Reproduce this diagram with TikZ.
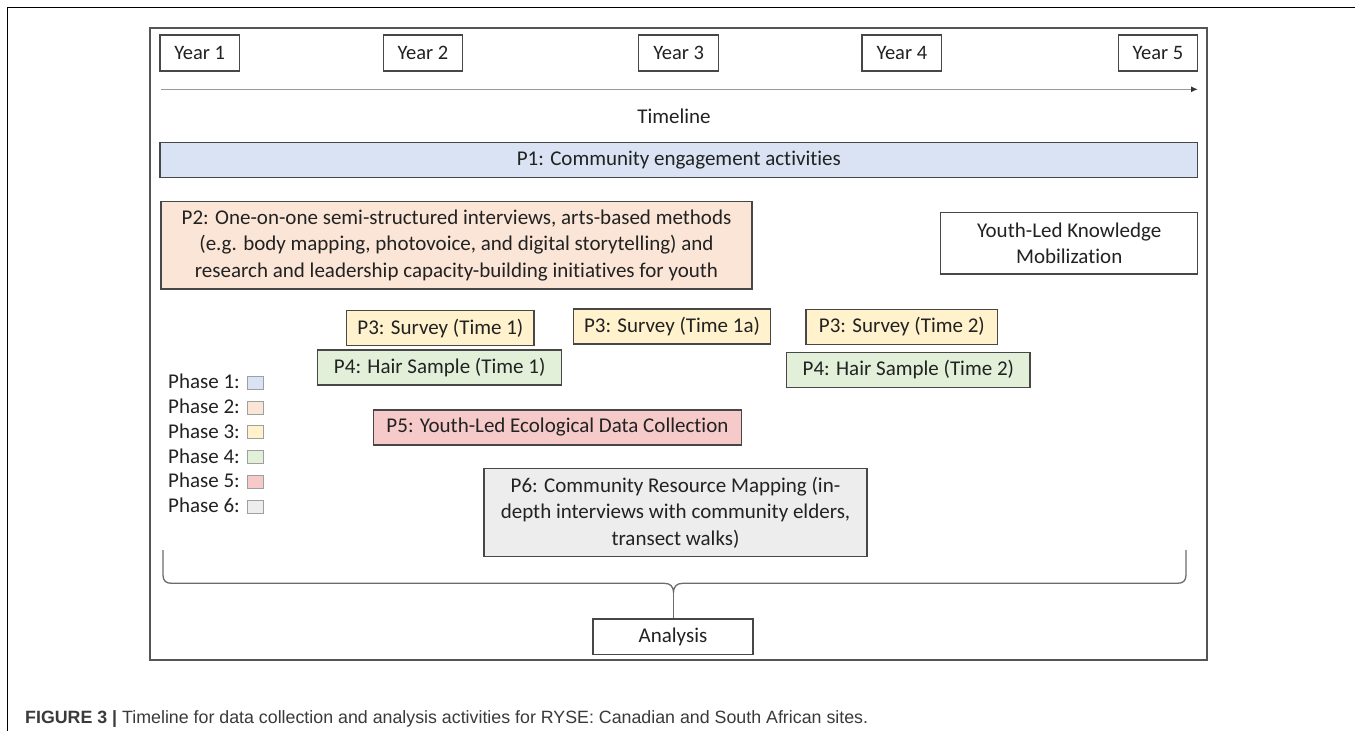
\documentclass[tikz,border=0pt]{standalone}
\usepackage{fontspec}
\setmainfont{Carlito}[Ligatures={NoCommon}]
\newfontfamily\capfont{Liberation Sans}
\usetikzlibrary{arrows.meta}
\definecolor{cA}{HTML}{DAE3F3}
\definecolor{cB}{HTML}{FBE5D6}
\definecolor{cC}{HTML}{FFF2CC}
\definecolor{cD}{HTML}{E2F0D9}
\definecolor{cE}{HTML}{F7CACA}
\definecolor{cF}{HTML}{EDEDED}
\definecolor{edgec}{HTML}{474747}
\definecolor{txtc}{HTML}{222222}
\definecolor{framec}{HTML}{555555}
\definecolor{capc}{HTML}{3A3A3A}
\newcommand\bnode[7]{%
 \pgfmathsetmacro\myW{#5-#3}\pgfmathsetmacro\myH{#6-#4}%
 \pgfmathsetmacro\myX{(#3+#5)/2}\pgfmathsetmacro\myY{(#4+#6)/2}%
 \node[#2,minimum width=\myW pt,minimum height=\myH pt] (#1) at (\myX,\myY) {#7};}
\tikzset{
 boxbase/.style={draw=edgec,line width=1.1pt,inner sep=0pt,text=txtc,align=center,
   font=\fontsize{21}{26.5}\selectfont},
 yearbox/.style={boxbase,fill=white,font=\fontsize{20.5}{24}\selectfont},
 plainbox/.style={boxbase,fill=white},
 legsq/.style={draw=gray!75,line width=0.9pt,minimum width=16pt,minimum height=13pt,inner sep=0pt},
 legtxt/.style={anchor=west,inner sep=0pt,text=txtc,font=\fontsize{21}{24}\selectfont},
 brace/.style={draw=gray!85!black,line width=1.3pt},
}
\begin{document}
\begin{tikzpicture}[x=1pt,y=-1pt]
\useasboundingbox (0,0) rectangle (1355,731);
\fill[white] (0,0) rectangle (1355,731);
% outer frame lines
\coordinate (o1) at (7.5,731);
\coordinate (o2) at (7.5,7.5);
\coordinate (o3) at (1355,7.5);
\draw[black,line width=1.2pt] (o1) -- (o2) -- (o3);
% inner frame
\draw[framec,line width=1.5pt] (150,28) rectangle (1207,660);
% years
\bnode{y1}{yearbox}{160}{35}{239.5}{71}{Year 1}
\bnode{y2}{yearbox}{383.4}{35}{462.6}{71}{Year 2}
\bnode{y3}{yearbox}{638.7}{35}{718.6}{71}{Year 3}
\bnode{y4}{yearbox}{862}{35}{941.7}{71}{Year 4}
\bnode{y5}{yearbox}{1118.3}{35}{1197.7}{71}{Year 5}
% timeline
\coordinate (t0) at (161,89.3);
\coordinate (t1) at (1198,89.3);
\draw[gray!80,line width=1.6pt,-{Latex[length=7pt,width=6pt,color=black!80]}] (t0) -- (t1);
\node[text=txtc,font=\fontsize{21}{24}\selectfont,inner sep=0pt] (tl) at (674,116) {Timeline};
% phases
\bnode{p1}{boxbase,fill=cA}{160}{142.7}{1197.7}{177.3}{P1: Community engagement activities}
\bnode{p2}{boxbase,fill=cB}{161}{201.7}{752}{289}{P2: One-on-one semi-structured interviews, arts-based methods\\(e.g. body mapping, photovoice, and digital storytelling) and\\research and leadership capacity-building initiatives for youth}
\bnode{km}{plainbox}{940.7}{212.7}{1197.7}{274}{Youth-Led Knowledge\\Mobilization}
\bnode{s1}{boxbase,fill=cC}{346.7}{310.7}{534}{345.7}{P3: Survey (Time 1)}
\bnode{s1a}{boxbase,fill=cC}{573.3}{309}{770.7}{344}{P3: Survey (Time 1a)}
\bnode{s2}{boxbase,fill=cC}{806}{309.3}{997.7}{344.3}{P3: Survey (Time 2)}
\bnode{h1}{boxbase,fill=cD}{317.7}{350}{561.7}{385}{P4: Hair Sample (Time 1)}
\bnode{h2}{boxbase,fill=cD}{786.7}{352.3}{1030}{387.7}{P4: Hair Sample (Time 2)}
\bnode{p5}{boxbase,fill=cE}{373.3}{410}{741.7}{445}{P5: Youth-Led Ecological Data Collection}
\bnode{p6}{boxbase,fill=cF}{484}{468.3}{867}{556.5}{P6: Community Resource Mapping (in-\\depth interviews with community elders,\\transect walks)}
\bnode{an}{plainbox}{593}{619}{753}{654.3}{Analysis}
% legend
\node[legtxt] (l1) at (168,381.7) {Phase 1:};
\node[legtxt] (l2) at (168,406.4) {Phase 2:};
\node[legtxt] (l3) at (168,431.1) {Phase 3:};
\node[legtxt] (l4) at (168,455.8) {Phase 4:};
\node[legtxt] (l5) at (168,480.5) {Phase 5:};
\node[legtxt] (l6) at (168,505.2) {Phase 6:};
\node[legsq,fill=cA] (q1) at (255.5,383) {};
\node[legsq,fill=cB] (q2) at (255.5,407.7) {};
\node[legsq,fill=cC] (q3) at (255.5,432.4) {};
\node[legsq,fill=cD] (q4) at (255.5,457.1) {};
\node[legsq,fill=cE] (q5) at (255.5,481.8) {};
\node[legsq,fill=cF] (q6) at (255.5,506.5) {};
% brace
\coordinate (tip) at (673.5,593);
\draw[brace] (163,550) -- (163,575) .. controls (163,581) and (166,583.3) .. (172,583.3)
  -- (664,583.3) .. controls (670,583.3) and (673.5,586) .. (tip)
  .. controls (673.5,586) and (677,583.3) .. (683,583.3)
  -- (1177,583.3) .. controls (1183,583.3) and (1186,581) .. (1186,575) -- (1186,550);
\draw[brace] (tip) -- (tip |- an.north);
% caption
\node[anchor=base west,inner sep=0pt,text=capc] (cap) at (25,723)
 {\capfont\fontsize{17.8}{20}\selectfont\textbf{FIGURE 3 |} Timeline for data collection and analysis activities for RYSE: Canadian and South African sites.};
\end{tikzpicture}
\end{document}
